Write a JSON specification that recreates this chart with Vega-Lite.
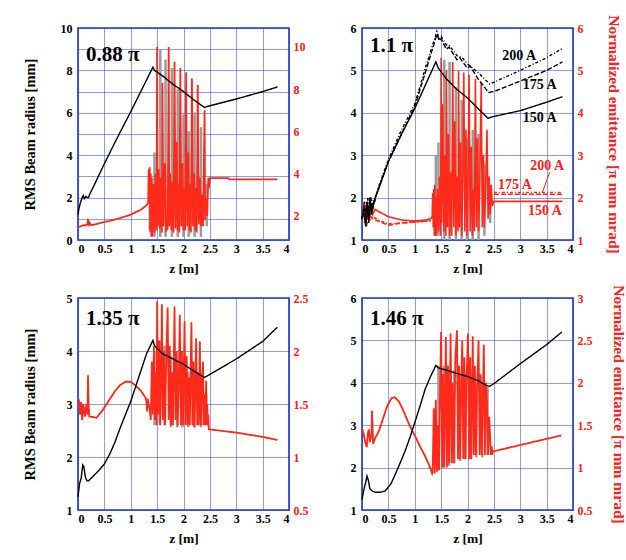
{
  "$schema": "https://vega.github.io/schema/vega-lite/v6.json",
  "autosize": {"type": "none"},
  "padding": {"left": 78, "top": 28, "right": 548, "bottom": 532},
  "background": "white",
  "datasets": {
    "lines": [
      {"p":1,"s":"black","z":0,"v":1.2},{"p":1,"s":"black","z":0.02,"v":1.5},{"p":1,"s":"black","z":0.05,"v":1.8},{"p":1,"s":"black","z":0.08,"v":2.0},{"p":1,"s":"black","z":0.1,"v":2.1},{"p":1,"s":"black","z":0.12,"v":1.95},{"p":1,"s":"black","z":0.15,"v":2.05},{"p":1,"s":"black","z":0.18,"v":2.0},{"p":1,"s":"black","z":0.2,"v":2.0},{"p":1,"s":"black","z":0.22,"v":2.15},{"p":1,"s":"black","z":0.3,"v":2.55},{"p":1,"s":"black","z":0.5,"v":3.6},{"p":1,"s":"black","z":0.75,"v":4.85},{"p":1,"s":"black","z":1.0,"v":6.05},{"p":1,"s":"black","z":1.25,"v":7.3},{"p":1,"s":"black","z":1.42,"v":8.15},{"p":1,"s":"black","z":1.45,"v":8.0},{"p":1,"s":"black","z":1.6,"v":7.75},{"p":1,"s":"black","z":1.8,"v":7.35},{"p":1,"s":"black","z":2.0,"v":7.0},{"p":1,"s":"black","z":2.2,"v":6.6},{"p":1,"s":"black","z":2.4,"v":6.25},{"p":1,"s":"black","z":2.45,"v":6.3},{"p":1,"s":"black","z":3.0,"v":6.65},{"p":1,"s":"black","z":3.5,"v":7.0},{"p":1,"s":"black","z":3.78,"v":7.22},

      {"p":1,"s":"red","z":0,"v":1.45},{"p":1,"s":"red","z":0.05,"v":1.5},{"p":1,"s":"red","z":0.1,"v":1.55},{"p":1,"s":"red","z":0.15,"v":1.55},{"p":1,"s":"red","z":0.18,"v":1.6},{"p":1,"s":"red","z":0.19,"v":1.85},{"p":1,"s":"red","z":0.2,"v":1.5},{"p":1,"s":"red","z":0.21,"v":1.7},{"p":1,"s":"red","z":0.25,"v":1.55},{"p":1,"s":"red","z":0.5,"v":1.7},{"p":1,"s":"red","z":0.75,"v":1.85},{"p":1,"s":"red","z":1.0,"v":2.05},{"p":1,"s":"red","z":1.2,"v":2.3},{"p":1,"s":"red","z":1.3,"v":2.5},{"p":1,"s":"red","z":1.33,"v":2.6},
      {"p":1,"s":"red","z":1.34,"v":4.2},{"p":1,"s":"red","z":1.35,"v":2.6},{"p":1,"s":"red","z":1.36,"v":4.3},{"p":1,"s":"red","z":1.37,"v":1.2},{"p":1,"s":"red","z":1.38,"v":4.0},{"p":1,"s":"red","z":1.39,"v":1.0},{"p":1,"s":"red","z":1.40,"v":3.8},{"p":1,"s":"red","z":1.41,"v":1.0},{"p":1,"s":"red","z":1.43,"v":3.5},{"p":1,"s":"red","z":1.45,"v":1.2},{"p":1,"s":"red","z":1.47,"v":4.0},{"p":1,"s":"red","z":1.49,"v":1.3},{"p":1,"s":"red","z":1.50,"v":10.0},{"p":1,"s":"red","z":1.51,"v":1.5},{"p":1,"s":"red","z":1.53,"v":4.2},{"p":1,"s":"red","z":1.55,"v":1.4},{"p":1,"s":"red","z":1.57,"v":3.8},{"p":1,"s":"red","z":1.59,"v":1.2},{"p":1,"s":"red","z":1.60,"v":8.3},{"p":1,"s":"red","z":1.62,"v":1.5},{"p":1,"s":"red","z":1.65,"v":4.5},{"p":1,"s":"red","z":1.67,"v":1.3},{"p":1,"s":"red","z":1.70,"v":1.4},{"p":1,"s":"red","z":1.72,"v":10.0},{"p":1,"s":"red","z":1.73,"v":1.5},{"p":1,"s":"red","z":1.75,"v":4.0},{"p":1,"s":"red","z":1.77,"v":1.3},{"p":1,"s":"red","z":1.79,"v":3.6},{"p":1,"s":"red","z":1.81,"v":1.2},{"p":1,"s":"red","z":1.83,"v":9.3},{"p":1,"s":"red","z":1.85,"v":1.4},{"p":1,"s":"red","z":1.87,"v":5.5},{"p":1,"s":"red","z":1.89,"v":1.3},{"p":1,"s":"red","z":1.91,"v":3.5},{"p":1,"s":"red","z":1.92,"v":1.2},{"p":1,"s":"red","z":1.94,"v":9.0},{"p":1,"s":"red","z":1.96,"v":1.5},{"p":1,"s":"red","z":1.98,"v":4.5},{"p":1,"s":"red","z":2.00,"v":1.3},{"p":1,"s":"red","z":2.02,"v":3.3},{"p":1,"s":"red","z":2.03,"v":1.3},{"p":1,"s":"red","z":2.05,"v":8.8},{"p":1,"s":"red","z":2.07,"v":1.5},{"p":1,"s":"red","z":2.09,"v":5.0},{"p":1,"s":"red","z":2.11,"v":1.3},{"p":1,"s":"red","z":2.13,"v":3.5},{"p":1,"s":"red","z":2.14,"v":1.2},{"p":1,"s":"red","z":2.16,"v":8.5},{"p":1,"s":"red","z":2.18,"v":1.5},{"p":1,"s":"red","z":2.20,"v":4.0},{"p":1,"s":"red","z":2.22,"v":1.3},{"p":1,"s":"red","z":2.24,"v":3.3},{"p":1,"s":"red","z":2.25,"v":1.2},{"p":1,"s":"red","z":2.27,"v":8.2},{"p":1,"s":"red","z":2.29,"v":1.6},{"p":1,"s":"red","z":2.31,"v":3.8},{"p":1,"s":"red","z":2.33,"v":1.5},{"p":1,"s":"red","z":2.35,"v":3.0},{"p":1,"s":"red","z":2.37,"v":1.5},{"p":1,"s":"red","z":2.40,"v":7.0},{"p":1,"s":"red","z":2.41,"v":1.8},{"p":1,"s":"red","z":2.43,"v":2.8},{"p":1,"s":"red","z":2.45,"v":2.0},{"p":1,"s":"red","z":2.47,"v":3.8},{"p":1,"s":"red","z":2.48,"v":3.3},{"p":1,"s":"red","z":2.5,"v":3.78},{"p":1,"s":"red","z":2.85,"v":3.78},{"p":1,"s":"red","z":2.87,"v":3.72},{"p":1,"s":"red","z":3.78,"v":3.72},

      {"p":2,"s":"black","z":0,"v":1.5},{"p":2,"s":"black","z":0.03,"v":1.7},{"p":2,"s":"black","z":0.06,"v":1.4},{"p":2,"s":"black","z":0.09,"v":1.9},{"p":2,"s":"black","z":0.12,"v":1.5},{"p":2,"s":"black","z":0.15,"v":2.0},{"p":2,"s":"black","z":0.18,"v":1.6},{"p":2,"s":"black","z":0.22,"v":1.9},{"p":2,"s":"black","z":0.3,"v":2.15},{"p":2,"s":"black","z":0.5,"v":2.85},{"p":2,"s":"black","z":0.75,"v":3.5},{"p":2,"s":"black","z":1.0,"v":4.1},{"p":2,"s":"black","z":1.2,"v":4.65},{"p":2,"s":"black","z":1.4,"v":5.2},{"p":2,"s":"black","z":1.45,"v":5.05},{"p":2,"s":"black","z":1.6,"v":4.8},{"p":2,"s":"black","z":1.8,"v":4.55},{"p":2,"s":"black","z":2.0,"v":4.35},{"p":2,"s":"black","z":2.2,"v":4.1},{"p":2,"s":"black","z":2.39,"v":3.87},{"p":2,"s":"black","z":2.45,"v":3.9},{"p":2,"s":"black","z":3.0,"v":4.05},{"p":2,"s":"black","z":3.5,"v":4.25},{"p":2,"s":"black","z":3.8,"v":4.38},

      {"p":2,"s":"b175","z":0,"v":1.5},{"p":2,"s":"b175","z":0.04,"v":1.8},{"p":2,"s":"b175","z":0.07,"v":1.3},{"p":2,"s":"b175","z":0.1,"v":1.9},{"p":2,"s":"b175","z":0.13,"v":1.4},{"p":2,"s":"b175","z":0.16,"v":2.0},{"p":2,"s":"b175","z":0.2,"v":1.7},{"p":2,"s":"b175","z":0.25,"v":2.0},{"p":2,"s":"b175","z":0.5,"v":2.85},{"p":2,"s":"b175","z":0.75,"v":3.5},{"p":2,"s":"b175","z":1.0,"v":4.15},{"p":2,"s":"b175","z":1.2,"v":4.95},{"p":2,"s":"b175","z":1.42,"v":5.85},{"p":2,"s":"b175","z":1.47,"v":5.7},{"p":2,"s":"b175","z":1.5,"v":5.75},{"p":2,"s":"b175","z":1.6,"v":5.5},{"p":2,"s":"b175","z":1.65,"v":5.55},{"p":2,"s":"b175","z":1.8,"v":5.25},{"p":2,"s":"b175","z":1.85,"v":5.3},{"p":2,"s":"b175","z":2.0,"v":5.05},{"p":2,"s":"b175","z":2.05,"v":5.1},{"p":2,"s":"b175","z":2.2,"v":4.8},{"p":2,"s":"b175","z":2.4,"v":4.48},{"p":2,"s":"b175","z":2.5,"v":4.5},{"p":2,"s":"b175","z":3.0,"v":4.75},{"p":2,"s":"b175","z":3.5,"v":5.0},{"p":2,"s":"b175","z":3.8,"v":5.2},

      {"p":2,"s":"b200","z":0,"v":1.5},{"p":2,"s":"b200","z":0.05,"v":1.9},{"p":2,"s":"b200","z":0.08,"v":1.4},{"p":2,"s":"b200","z":0.11,"v":2.0},{"p":2,"s":"b200","z":0.14,"v":1.5},{"p":2,"s":"b200","z":0.17,"v":2.0},{"p":2,"s":"b200","z":0.22,"v":1.8},{"p":2,"s":"b200","z":0.3,"v":2.2},{"p":2,"s":"b200","z":0.5,"v":2.9},{"p":2,"s":"b200","z":0.75,"v":3.6},{"p":2,"s":"b200","z":1.0,"v":4.2},{"p":2,"s":"b200","z":1.2,"v":5.05},{"p":2,"s":"b200","z":1.42,"v":5.92},{"p":2,"s":"b200","z":1.46,"v":5.75},{"p":2,"s":"b200","z":1.5,"v":5.8},{"p":2,"s":"b200","z":1.6,"v":5.6},{"p":2,"s":"b200","z":1.65,"v":5.6},{"p":2,"s":"b200","z":1.8,"v":5.35},{"p":2,"s":"b200","z":1.9,"v":5.3},{"p":2,"s":"b200","z":2.0,"v":5.15},{"p":2,"s":"b200","z":2.2,"v":4.95},{"p":2,"s":"b200","z":2.42,"v":4.68},{"p":2,"s":"b200","z":2.5,"v":4.72},{"p":2,"s":"b200","z":3.0,"v":5.0},{"p":2,"s":"b200","z":3.5,"v":5.3},{"p":2,"s":"b200","z":3.8,"v":5.52},

      {"p":2,"s":"red","z":0,"v":1.5},{"p":2,"s":"red","z":0.04,"v":1.9},{"p":2,"s":"red","z":0.07,"v":1.4},{"p":2,"s":"red","z":0.1,"v":1.8},{"p":2,"s":"red","z":0.13,"v":1.5},{"p":2,"s":"red","z":0.17,"v":1.8},{"p":2,"s":"red","z":0.2,"v":1.6},{"p":2,"s":"red","z":0.25,"v":1.72},{"p":2,"s":"red","z":0.35,"v":1.65},{"p":2,"s":"red","z":0.5,"v":1.55},{"p":2,"s":"red","z":0.75,"v":1.47},{"p":2,"s":"red","z":1.0,"v":1.45},{"p":2,"s":"red","z":1.2,"v":1.47},{"p":2,"s":"red","z":1.3,"v":1.5},{"p":2,"s":"red","z":1.33,"v":1.55},
      {"p":2,"s":"red","z":1.34,"v":2.1},{"p":2,"s":"red","z":1.35,"v":1.3},{"p":2,"s":"red","z":1.36,"v":2.2},{"p":2,"s":"red","z":1.37,"v":1.1},{"p":2,"s":"red","z":1.38,"v":2.3},{"p":2,"s":"red","z":1.39,"v":1.1},{"p":2,"s":"red","z":1.40,"v":2.0},{"p":2,"s":"red","z":1.41,"v":1.1},{"p":2,"s":"red","z":1.43,"v":2.2},{"p":2,"s":"red","z":1.45,"v":1.2},{"p":2,"s":"red","z":1.47,"v":2.5},{"p":2,"s":"red","z":1.49,"v":1.1},{"p":2,"s":"red","z":1.50,"v":5.3},{"p":2,"s":"red","z":1.51,"v":1.4},{"p":2,"s":"red","z":1.53,"v":4.2},{"p":2,"s":"red","z":1.55,"v":1.2},{"p":2,"s":"red","z":1.57,"v":3.0},{"p":2,"s":"red","z":1.59,"v":1.1},{"p":2,"s":"red","z":1.60,"v":5.0},{"p":2,"s":"red","z":1.62,"v":1.3},{"p":2,"s":"red","z":1.64,"v":3.5},{"p":2,"s":"red","z":1.66,"v":1.1},{"p":2,"s":"red","z":1.68,"v":2.6},{"p":2,"s":"red","z":1.70,"v":1.1},{"p":2,"s":"red","z":1.72,"v":5.2},{"p":2,"s":"red","z":1.74,"v":1.3},{"p":2,"s":"red","z":1.76,"v":3.8},{"p":2,"s":"red","z":1.78,"v":1.1},{"p":2,"s":"red","z":1.80,"v":2.5},{"p":2,"s":"red","z":1.82,"v":1.2},{"p":2,"s":"red","z":1.83,"v":5.0},{"p":2,"s":"red","z":1.85,"v":1.3},{"p":2,"s":"red","z":1.87,"v":3.3},{"p":2,"s":"red","z":1.89,"v":1.1},{"p":2,"s":"red","z":1.91,"v":2.4},{"p":2,"s":"red","z":1.93,"v":4.95},{"p":2,"s":"red","z":1.95,"v":1.2},{"p":2,"s":"red","z":1.97,"v":3.6},{"p":2,"s":"red","z":1.99,"v":1.1},{"p":2,"s":"red","z":2.01,"v":2.4},{"p":2,"s":"red","z":2.03,"v":4.9},{"p":2,"s":"red","z":2.05,"v":1.2},{"p":2,"s":"red","z":2.07,"v":3.2},{"p":2,"s":"red","z":2.09,"v":1.1},{"p":2,"s":"red","z":2.11,"v":2.2},{"p":2,"s":"red","z":2.13,"v":1.2},{"p":2,"s":"red","z":2.15,"v":4.8},{"p":2,"s":"red","z":2.17,"v":1.3},{"p":2,"s":"red","z":2.19,"v":3.4},{"p":2,"s":"red","z":2.21,"v":1.2},{"p":2,"s":"red","z":2.23,"v":2.2},{"p":2,"s":"red","z":2.26,"v":4.7},{"p":2,"s":"red","z":2.28,"v":1.3},{"p":2,"s":"red","z":2.30,"v":3.0},{"p":2,"s":"red","z":2.32,"v":1.3},{"p":2,"s":"red","z":2.34,"v":2.0},{"p":2,"s":"red","z":2.37,"v":3.6},{"p":2,"s":"red","z":2.39,"v":1.5},{"p":2,"s":"red","z":2.41,"v":2.5},{"p":2,"s":"red","z":2.43,"v":1.6},{"p":2,"s":"red","z":2.45,"v":2.3},{"p":2,"s":"red","z":2.47,"v":1.8},{"p":2,"s":"red","z":2.5,"v":1.91},{"p":2,"s":"red","z":3.8,"v":1.91},

      {"p":2,"s":"r175","z":0,"v":1.5},{"p":2,"s":"r175","z":0.05,"v":1.8},{"p":2,"s":"r175","z":0.08,"v":1.3},{"p":2,"s":"r175","z":0.12,"v":1.6},{"p":2,"s":"r175","z":0.2,"v":1.5},{"p":2,"s":"r175","z":0.3,"v":1.45},{"p":2,"s":"r175","z":0.5,"v":1.35},{"p":2,"s":"r175","z":0.75,"v":1.4},{"p":2,"s":"r175","z":1.0,"v":1.43},{"p":2,"s":"r175","z":1.3,"v":1.46},{"p":2,"s":"r175","z":1.9,"v":null},{"p":2,"s":"r175","z":2.5,"v":2.08},{"p":2,"s":"r175","z":3.8,"v":2.08},

      {"p":2,"s":"r200","z":0,"v":1.5},{"p":2,"s":"r200","z":0.06,"v":1.7},{"p":2,"s":"r200","z":0.1,"v":1.4},{"p":2,"s":"r200","z":0.2,"v":1.55},{"p":2,"s":"r200","z":0.35,"v":1.45},{"p":2,"s":"r200","z":0.5,"v":1.38},{"p":2,"s":"r200","z":1.0,"v":1.42},{"p":2,"s":"r200","z":1.3,"v":1.45},{"p":2,"s":"r200","z":1.9,"v":null},{"p":2,"s":"r200","z":2.5,"v":2.12},{"p":2,"s":"r200","z":3.8,"v":2.12},

      {"p":3,"s":"black","z":0,"v":1.25},{"p":3,"s":"black","z":0.03,"v":1.5},{"p":3,"s":"black","z":0.06,"v":1.6},{"p":3,"s":"black","z":0.09,"v":1.85},{"p":3,"s":"black","z":0.11,"v":1.82},{"p":3,"s":"black","z":0.14,"v":1.62},{"p":3,"s":"black","z":0.17,"v":1.55},{"p":3,"s":"black","z":0.2,"v":1.55},{"p":3,"s":"black","z":0.3,"v":1.65},{"p":3,"s":"black","z":0.4,"v":1.75},{"p":3,"s":"black","z":0.5,"v":1.87},{"p":3,"s":"black","z":0.6,"v":2.05},{"p":3,"s":"black","z":0.7,"v":2.28},{"p":3,"s":"black","z":0.8,"v":2.55},{"p":3,"s":"black","z":0.9,"v":2.8},{"p":3,"s":"black","z":1.0,"v":3.05},{"p":3,"s":"black","z":1.1,"v":3.35},{"p":3,"s":"black","z":1.2,"v":3.65},{"p":3,"s":"black","z":1.3,"v":3.95},{"p":3,"s":"black","z":1.42,"v":4.2},{"p":3,"s":"black","z":1.45,"v":4.1},{"p":3,"s":"black","z":1.6,"v":3.95},{"p":3,"s":"black","z":1.8,"v":3.85},{"p":3,"s":"black","z":2.0,"v":3.75},{"p":3,"s":"black","z":2.2,"v":3.62},{"p":3,"s":"black","z":2.39,"v":3.5},{"p":3,"s":"black","z":2.45,"v":3.53},{"p":3,"s":"black","z":3.0,"v":3.85},{"p":3,"s":"black","z":3.5,"v":4.18},{"p":3,"s":"black","z":3.78,"v":4.45},

      {"p":3,"s":"red","z":0,"v":1.5},{"p":3,"s":"red","z":0.02,"v":1.52},{"p":3,"s":"red","z":0.04,"v":1.4},{"p":3,"s":"red","z":0.06,"v":1.52},{"p":3,"s":"red","z":0.08,"v":1.35},{"p":3,"s":"red","z":0.1,"v":1.5},{"p":3,"s":"red","z":0.13,"v":1.38},{"p":3,"s":"red","z":0.16,"v":1.5},{"p":3,"s":"red","z":0.18,"v":1.4},{"p":3,"s":"red","z":0.19,"v":1.77},{"p":3,"s":"red","z":0.2,"v":1.5},{"p":3,"s":"red","z":0.215,"v":1.38},{"p":3,"s":"red","z":0.25,"v":1.38},{"p":3,"s":"red","z":0.35,"v":1.37},{"p":3,"s":"red","z":0.45,"v":1.43},{"p":3,"s":"red","z":0.57,"v":1.52},{"p":3,"s":"red","z":0.7,"v":1.62},{"p":3,"s":"red","z":0.8,"v":1.68},{"p":3,"s":"red","z":0.9,"v":1.71},{"p":3,"s":"red","z":1.0,"v":1.71},{"p":3,"s":"red","z":1.1,"v":1.67},{"p":3,"s":"red","z":1.2,"v":1.62},{"p":3,"s":"red","z":1.28,"v":1.56},{"p":3,"s":"red","z":1.3,"v":1.52},{"p":3,"s":"red","z":1.31,"v":1.43},{"p":3,"s":"red","z":1.32,"v":1.55},{"p":3,"s":"red","z":1.34,"v":1.5},{"p":3,"s":"red","z":1.36,"v":1.45},
      {"p":3,"s":"red","z":1.38,"v":1.35},{"p":3,"s":"red","z":1.40,"v":1.9},{"p":3,"s":"red","z":1.42,"v":1.4},{"p":3,"s":"red","z":1.44,"v":2.05},{"p":3,"s":"red","z":1.46,"v":1.35},{"p":3,"s":"red","z":1.48,"v":1.8},{"p":3,"s":"red","z":1.49,"v":1.3},{"p":3,"s":"red","z":1.50,"v":2.47},{"p":3,"s":"red","z":1.52,"v":1.4},{"p":3,"s":"red","z":1.54,"v":2.1},{"p":3,"s":"red","z":1.56,"v":1.3},{"p":3,"s":"red","z":1.58,"v":1.9},{"p":3,"s":"red","z":1.59,"v":2.44},{"p":3,"s":"red","z":1.61,"v":1.35},{"p":3,"s":"red","z":1.63,"v":2.0},{"p":3,"s":"red","z":1.65,"v":1.3},{"p":3,"s":"red","z":1.67,"v":1.85},{"p":3,"s":"red","z":1.70,"v":2.41},{"p":3,"s":"red","z":1.72,"v":1.35},{"p":3,"s":"red","z":1.74,"v":2.05},{"p":3,"s":"red","z":1.76,"v":1.3},{"p":3,"s":"red","z":1.78,"v":1.8},{"p":3,"s":"red","z":1.80,"v":1.3},{"p":3,"s":"red","z":1.83,"v":2.42},{"p":3,"s":"red","z":1.85,"v":1.35},{"p":3,"s":"red","z":1.87,"v":2.0},{"p":3,"s":"red","z":1.89,"v":1.3},{"p":3,"s":"red","z":1.91,"v":1.7},{"p":3,"s":"red","z":1.93,"v":2.34},{"p":3,"s":"red","z":1.95,"v":1.3},{"p":3,"s":"red","z":1.97,"v":2.0},{"p":3,"s":"red","z":1.99,"v":1.3},{"p":3,"s":"red","z":2.02,"v":2.28},{"p":3,"s":"red","z":2.04,"v":1.3},{"p":3,"s":"red","z":2.06,"v":1.95},{"p":3,"s":"red","z":2.08,"v":1.3},{"p":3,"s":"red","z":2.10,"v":1.75},{"p":3,"s":"red","z":2.12,"v":1.3},{"p":3,"s":"red","z":2.15,"v":2.27},{"p":3,"s":"red","z":2.17,"v":1.3},{"p":3,"s":"red","z":2.19,"v":1.9},{"p":3,"s":"red","z":2.21,"v":1.28},{"p":3,"s":"red","z":2.24,"v":2.12},{"p":3,"s":"red","z":2.26,"v":1.3},{"p":3,"s":"red","z":2.28,"v":1.8},{"p":3,"s":"red","z":2.29,"v":1.3},{"p":3,"s":"red","z":2.31,"v":2.09},{"p":3,"s":"red","z":2.33,"v":1.3},{"p":3,"s":"red","z":2.35,"v":1.7},{"p":3,"s":"red","z":2.37,"v":1.9},{"p":3,"s":"red","z":2.38,"v":1.3},{"p":3,"s":"red","z":2.40,"v":1.6},{"p":3,"s":"red","z":2.41,"v":1.3},{"p":3,"s":"red","z":2.43,"v":1.72},{"p":3,"s":"red","z":2.44,"v":1.3},{"p":3,"s":"red","z":2.45,"v":1.5},{"p":3,"s":"red","z":2.46,"v":1.3},{"p":3,"s":"red","z":2.47,"v":1.4},{"p":3,"s":"red","z":2.48,"v":1.26},{"p":3,"s":"red","z":2.5,"v":1.26},{"p":3,"s":"red","z":3.0,"v":1.23},{"p":3,"s":"red","z":3.5,"v":1.19},{"p":3,"s":"red","z":3.78,"v":1.16},

      {"p":4,"s":"black","z":0,"v":1.25},{"p":4,"s":"black","z":0.03,"v":1.45},{"p":4,"s":"black","z":0.07,"v":1.65},{"p":4,"s":"black","z":0.095,"v":1.8},{"p":4,"s":"black","z":0.12,"v":1.7},{"p":4,"s":"black","z":0.15,"v":1.5},{"p":4,"s":"black","z":0.19,"v":1.45},{"p":4,"s":"black","z":0.25,"v":1.42},{"p":4,"s":"black","z":0.35,"v":1.42},{"p":4,"s":"black","z":0.44,"v":1.45},{"p":4,"s":"black","z":0.55,"v":1.62},{"p":4,"s":"black","z":0.63,"v":1.84},{"p":4,"s":"black","z":0.72,"v":2.1},{"p":4,"s":"black","z":0.82,"v":2.4},{"p":4,"s":"black","z":0.92,"v":2.75},{"p":4,"s":"black","z":1.01,"v":3.1},{"p":4,"s":"black","z":1.1,"v":3.45},{"p":4,"s":"black","z":1.2,"v":3.86},{"p":4,"s":"black","z":1.3,"v":4.15},{"p":4,"s":"black","z":1.4,"v":4.41},{"p":4,"s":"black","z":1.45,"v":4.35},{"p":4,"s":"black","z":1.6,"v":4.3},{"p":4,"s":"black","z":1.8,"v":4.22},{"p":4,"s":"black","z":2.0,"v":4.15},{"p":4,"s":"black","z":2.2,"v":4.05},{"p":4,"s":"black","z":2.37,"v":3.93},{"p":4,"s":"black","z":2.42,"v":3.92},{"p":4,"s":"black","z":2.5,"v":3.98},{"p":4,"s":"black","z":3.0,"v":4.45},{"p":4,"s":"black","z":3.5,"v":4.9},{"p":4,"s":"black","z":3.79,"v":5.2},

      {"p":4,"s":"red","z":0,"v":1.47},{"p":4,"s":"red","z":0.03,"v":1.4},{"p":4,"s":"red","z":0.06,"v":1.3},{"p":4,"s":"red","z":0.09,"v":1.24},{"p":4,"s":"red","z":0.11,"v":1.4},{"p":4,"s":"red","z":0.13,"v":1.45},{"p":4,"s":"red","z":0.15,"v":1.3},{"p":4,"s":"red","z":0.18,"v":1.4},{"p":4,"s":"red","z":0.19,"v":1.67},{"p":4,"s":"red","z":0.21,"v":1.28},{"p":4,"s":"red","z":0.25,"v":1.35},{"p":4,"s":"red","z":0.32,"v":1.43},{"p":4,"s":"red","z":0.4,"v":1.58},{"p":4,"s":"red","z":0.48,"v":1.73},{"p":4,"s":"red","z":0.56,"v":1.82},{"p":4,"s":"red","z":0.62,"v":1.83},{"p":4,"s":"red","z":0.7,"v":1.78},{"p":4,"s":"red","z":0.8,"v":1.65},{"p":4,"s":"red","z":0.9,"v":1.5},{"p":4,"s":"red","z":1.0,"v":1.38},{"p":4,"s":"red","z":1.1,"v":1.25},{"p":4,"s":"red","z":1.2,"v":1.13},{"p":4,"s":"red","z":1.28,"v":1.02},{"p":4,"s":"red","z":1.33,"v":0.93},
      {"p":4,"s":"red","z":1.34,"v":0.95},{"p":4,"s":"red","z":1.36,"v":1.7},{"p":4,"s":"red","z":1.38,"v":0.93},{"p":4,"s":"red","z":1.40,"v":1.8},{"p":4,"s":"red","z":1.42,"v":0.95},{"p":4,"s":"red","z":1.44,"v":1.5},{"p":4,"s":"red","z":1.46,"v":0.97},{"p":4,"s":"red","z":1.48,"v":1.9},{"p":4,"s":"red","z":1.50,"v":2.6},{"p":4,"s":"red","z":1.52,"v":1.0},{"p":4,"s":"red","z":1.54,"v":2.1},{"p":4,"s":"red","z":1.56,"v":1.0},{"p":4,"s":"red","z":1.59,"v":2.54},{"p":4,"s":"red","z":1.61,"v":1.0},{"p":4,"s":"red","z":1.63,"v":2.2},{"p":4,"s":"red","z":1.65,"v":1.05},{"p":4,"s":"red","z":1.68,"v":2.58},{"p":4,"s":"red","z":1.70,"v":1.05},{"p":4,"s":"red","z":1.72,"v":2.0},{"p":4,"s":"red","z":1.74,"v":1.05},{"p":4,"s":"red","z":1.77,"v":2.3},{"p":4,"s":"red","z":1.80,"v":2.62},{"p":4,"s":"red","z":1.82,"v":1.1},{"p":4,"s":"red","z":1.84,"v":2.2},{"p":4,"s":"red","z":1.86,"v":1.1},{"p":4,"s":"red","z":1.88,"v":1.9},{"p":4,"s":"red","z":1.90,"v":2.5},{"p":4,"s":"red","z":1.92,"v":1.1},{"p":4,"s":"red","z":1.94,"v":2.3},{"p":4,"s":"red","z":1.96,"v":1.1},{"p":4,"s":"red","z":1.98,"v":2.0},{"p":4,"s":"red","z":2.01,"v":2.58},{"p":4,"s":"red","z":2.03,"v":1.1},{"p":4,"s":"red","z":2.05,"v":2.3},{"p":4,"s":"red","z":2.07,"v":1.1},{"p":4,"s":"red","z":2.10,"v":2.55},{"p":4,"s":"red","z":2.12,"v":1.15},{"p":4,"s":"red","z":2.14,"v":2.2},{"p":4,"s":"red","z":2.16,"v":1.15},{"p":4,"s":"red","z":2.18,"v":1.9},{"p":4,"s":"red","z":2.21,"v":2.5},{"p":4,"s":"red","z":2.23,"v":1.15},{"p":4,"s":"red","z":2.25,"v":2.1},{"p":4,"s":"red","z":2.27,"v":1.15},{"p":4,"s":"red","z":2.29,"v":1.8},{"p":4,"s":"red","z":2.31,"v":2.45},{"p":4,"s":"red","z":2.33,"v":1.15},{"p":4,"s":"red","z":2.35,"v":2.0},{"p":4,"s":"red","z":2.37,"v":1.75},{"p":4,"s":"red","z":2.39,"v":1.15},{"p":4,"s":"red","z":2.41,"v":1.6},{"p":4,"s":"red","z":2.43,"v":1.36},{"p":4,"s":"red","z":2.44,"v":1.15},{"p":4,"s":"red","z":2.46,"v":1.25},{"p":4,"s":"red","z":2.47,"v":1.15},{"p":4,"s":"red","z":2.48,"v":1.19},{"p":4,"s":"red","z":3.78,"v":1.38}
    ],
    "spikes": [
      {"p":1,"z":1.36,"lo":1.3,"hi":2.8},{"p":1,"z":1.45,"lo":1.0,"hi":5.0},{"p":1,"z":1.56,"lo":1.0,"hi":9.9},{"p":1,"z":1.66,"lo":1.0,"hi":9.4},{"p":1,"z":1.78,"lo":1.0,"hi":9.0},{"p":1,"z":1.89,"lo":1.0,"hi":8.0},{"p":1,"z":2.0,"lo":1.0,"hi":6.8},{"p":1,"z":2.1,"lo":1.0,"hi":6.0},{"p":1,"z":2.21,"lo":1.0,"hi":6.9},{"p":1,"z":2.33,"lo":1.0,"hi":6.2},{"p":1,"z":2.44,"lo":1.5,"hi":3.5},
      {"p":2,"z":1.40,"lo":1.1,"hi":3.0},{"p":2,"z":1.45,"lo":1.1,"hi":3.3},{"p":2,"z":1.56,"lo":1.0,"hi":5.25},{"p":2,"z":1.66,"lo":1.0,"hi":5.2},{"p":2,"z":1.78,"lo":1.0,"hi":4.6},{"p":2,"z":1.89,"lo":1.0,"hi":4.3},{"p":2,"z":1.99,"lo":1.0,"hi":3.4},{"p":2,"z":2.10,"lo":1.0,"hi":3.6},{"p":2,"z":2.21,"lo":1.0,"hi":3.5},{"p":2,"z":2.32,"lo":1.1,"hi":2.8},{"p":2,"z":2.43,"lo":1.4,"hi":2.3},
      {"p":3,"z":1.45,"lo":1.3,"hi":2.0},{"p":3,"z":1.55,"lo":1.3,"hi":2.1},{"p":3,"z":1.64,"lo":1.3,"hi":2.05},{"p":3,"z":1.76,"lo":1.28,"hi":1.95},{"p":3,"z":1.88,"lo":1.28,"hi":1.9},{"p":3,"z":1.98,"lo":1.28,"hi":1.85},{"p":3,"z":2.09,"lo":1.28,"hi":1.8},{"p":3,"z":2.2,"lo":1.28,"hi":1.75},{"p":3,"z":2.33,"lo":1.28,"hi":1.7},{"p":3,"z":2.43,"lo":1.3,"hi":1.6},
      {"p":4,"z":1.45,"lo":0.97,"hi":2.2},{"p":4,"z":1.55,"lo":1.0,"hi":2.2},{"p":4,"z":1.65,"lo":1.02,"hi":2.15},{"p":4,"z":1.75,"lo":1.05,"hi":2.15},{"p":4,"z":1.86,"lo":1.08,"hi":2.1},{"p":4,"z":1.96,"lo":1.1,"hi":2.1},{"p":4,"z":2.07,"lo":1.1,"hi":2.05},{"p":4,"z":2.17,"lo":1.12,"hi":2.0},{"p":4,"z":2.28,"lo":1.12,"hi":2.0},{"p":4,"z":2.38,"lo":1.15,"hi":1.95}
    ],
    "mains": [
      {"p":1,"z":0.15,"v":8.73,"t":"0.88 π"},{"p":2,"z":0.15,"v":5.58,"t":"1.1 π"},{"p":3,"z":0.15,"v":4.61,"t":"1.35 π"},{"p":4,"z":0.15,"v":5.5,"t":"1.46 π"}
    ],
    "notes": [
      {"p":2,"s":"black","z":2.98,"v":5.34,"t":"200 A"},{"p":2,"s":"black","z":3.37,"v":4.66,"t":"175 A"},{"p":2,"s":"black","z":3.37,"v":3.88,"t":"150 A"},
      {"p":2,"s":"red","z":3.51,"v":2.75,"t":"200 A"},{"p":2,"s":"red","z":2.9,"v":2.3,"t":"175 A"},{"p":2,"s":"red","z":3.47,"v":1.69,"t":"150 A"}
    ],
    "arrows": [
      {"p":2,"z":3.56,"v":2.6,"z2":3.42,"v2":2.13}
    ]
  },
  "config": {
    "font": "Liberation Serif",
    "view": {"stroke": "#1f35c8", "strokeWidth": 1.6},
    "axis": {
      "labelFont": "Liberation Serif", "labelFontWeight": "bold", "labelFontSize": 12, "labelColor": "#000000",
      "titleFont": "Liberation Serif", "titleFontWeight": "bold", "titleFontSize": 14.5, "titleColor": "#000000",
      "domain": false, "ticks": false,
      "gridColor": "#2638c8", "gridDash": [1, 1], "gridWidth": 1, "gridOpacity": 1
    }
  },
  "concat": [
    {
      "width": 211, "height": 212,
      "encoding": {"x": {"field": "z", "type": "quantitative", "scale": {"domain": [0, 4], "nice": false}, "axis": {"values": [0,0.5,1,1.5,2,2.5,3,3.5,4], "format": "~r", "title": "z [m]", "titleFontSize": 13.5, "grid": true, "labelPadding": 3, "titlePadding": 7}}},
      "layer": [
        {"data": {"name": "spikes"}, "transform": [{"filter": "datum.p == 1"}],
         "mark": {"type": "rule", "color": "#9a9a9a", "strokeWidth": 2.5},
         "encoding": {"y": {"field": "lo", "type": "quantitative", "scale": {"domain": [0.85, 10.9], "nice": false, "zero": false}, "axis": {"orient": "right", "values": [2,4,6,8,10], "format": "~r", "grid": false, "labelColor": "#ff2020", "labelPadding": 4, "title": null}}, "y2": {"field": "hi"}}},
        {"data": {"name": "lines"}, "transform": [{"filter": "datum.p == 1 && indexof(['red','r175','r200'], datum.s) >= 0"}],
         "mark": {"type": "line", "strokeWidth": 1.8},
         "encoding": {"y": {"field": "v", "type": "quantitative", "scale": {"domain": [0.85, 10.9], "nice": false, "zero": false}, "axis": null},
           "color": {"field": "s", "type": "nominal", "scale": {"domain": ["black","b175","b200","red","r175","r200"], "range": ["#000000","#000000","#000000","#ff2a1a","#ff2a1a","#ff2a1a"]}, "legend": null},
           "strokeDash": {"field": "s", "type": "nominal", "scale": {"domain": ["black","b175","b200","red","r175","r200"], "range": [[1,0],[5,2],[3,2,1,2],[1,0],[5,2],[3,2,1,2]]}, "legend": null}}},
        {"data": {"name": "lines"}, "transform": [{"filter": "datum.p == 1 && indexof(['black','b175','b200'], datum.s) >= 0"}],
         "mark": {"type": "line", "strokeWidth": 1.4},
         "encoding": {"y": {"field": "v", "type": "quantitative", "scale": {"domain": [0, 10], "nice": false}, "axis": {"orient": "left", "values": [0,1,2,3,4,5,6,7,8,9,10], "format": "~r", "labelExpr": "datum.value % 2 == 0 ? datum.label : ''", "grid": true, "labelPadding": 6, "title": "RMS Beam radius [mm]", "titlePadding": 23}},
           "color": {"field": "s", "type": "nominal", "scale": {"domain": ["black","b175","b200","red","r175","r200"], "range": ["#000000","#000000","#000000","#ff2a1a","#ff2a1a","#ff2a1a"]}, "legend": null},
           "strokeDash": {"field": "s", "type": "nominal", "scale": {"domain": ["black","b175","b200","red","r175","r200"], "range": [[1,0],[5,2],[3,2,1,2],[1,0],[5,2],[3,2,1,2]]}, "legend": null}}},
        {"data": {"name": "mains"}, "transform": [{"filter": "datum.p == 1"}],
         "mark": {"type": "text", "font": "Liberation Serif", "fontWeight": "bold", "fontSize": 21, "align": "left", "baseline": "middle", "color": "#000000"},
         "encoding": {"y": {"field": "v", "type": "quantitative", "scale": {"domain": [0, 10], "nice": false}, "axis": null}, "text": {"field": "t"}}}
      ],
      "resolve": {"scale": {"y": "independent"}}
    },
    {
      "width": 211, "height": 212,
      "encoding": {"x": {"field": "z", "type": "quantitative", "scale": {"domain": [0, 4], "nice": false}, "axis": {"values": [0,0.5,1,1.5,2,2.5,3,3.5,4], "format": "~r", "title": "z [m]", "titleFontSize": 13.5, "grid": true, "labelPadding": 3, "titlePadding": 7}}},
      "layer": [
        {"data": {"name": "spikes"}, "transform": [{"filter": "datum.p == 2"}],
         "mark": {"type": "rule", "color": "#9a9a9a", "strokeWidth": 2.5},
         "encoding": {"y": {"field": "lo", "type": "quantitative", "scale": {"domain": [1, 6], "nice": false, "zero": false}, "axis": {"orient": "right", "values": [1,2,3,4,5,6], "format": "~r", "grid": false, "labelColor": "#ff2020", "labelPadding": 4, "title": "Normalized emittance [π mm mrad]", "titleColor": "#ff2020", "titleFontSize": 15.5, "titlePadding": 22}}, "y2": {"field": "hi"}}},
        {"data": {"name": "lines"}, "transform": [{"filter": "datum.p == 2 && indexof(['red','r175','r200'], datum.s) >= 0"}],
         "mark": {"type": "line", "strokeWidth": 1.6, "invalid": "break-paths-show-domains"},
         "encoding": {"y": {"field": "v", "type": "quantitative", "scale": {"domain": [1, 6], "nice": false, "zero": false}, "axis": null},
           "color": {"field": "s", "type": "nominal", "scale": {"domain": ["black","b175","b200","red","r175","r200"], "range": ["#000000","#000000","#000000","#ff2a1a","#ff2a1a","#ff2a1a"]}, "legend": null},
           "strokeDash": {"field": "s", "type": "nominal", "scale": {"domain": ["black","b175","b200","red","r175","r200"], "range": [[1,0],[5,2],[3,2,1,2],[1,0],[5,2],[3,2,1,2]]}, "legend": null}}},
        {"data": {"name": "notes"}, "transform": [{"filter": "datum.p == 2 && datum.s == 'red'"}],
         "mark": {"type": "text", "font": "Liberation Serif", "fontWeight": "bold", "fontSize": 14, "align": "center", "baseline": "middle", "color": "#ff2020"},
         "encoding": {"y": {"field": "v", "type": "quantitative", "scale": {"domain": [1, 6], "nice": false, "zero": false}, "axis": null}, "text": {"field": "t"}}},
        {"data": {"name": "arrows"}, "transform": [{"filter": "datum.p == 2"}],
         "mark": {"type": "rule", "color": "#ff2020", "strokeWidth": 1},
         "encoding": {"y": {"field": "v", "type": "quantitative", "scale": {"domain": [1, 6], "nice": false, "zero": false}, "axis": null}, "x2": {"field": "z2"}, "y2": {"field": "v2"}}},
        {"data": {"name": "lines"}, "transform": [{"filter": "datum.p == 2 && indexof(['black','b175','b200'], datum.s) >= 0"}],
         "mark": {"type": "line", "strokeWidth": 1.4},
         "encoding": {"y": {"field": "v", "type": "quantitative", "scale": {"domain": [1, 6], "nice": false, "zero": false}, "axis": {"orient": "left", "values": [1,2,3,4,5,6], "format": "~r", "grid": true, "labelPadding": 6, "title": null}},
           "color": {"field": "s", "type": "nominal", "scale": {"domain": ["black","b175","b200","red","r175","r200"], "range": ["#000000","#000000","#000000","#ff2a1a","#ff2a1a","#ff2a1a"]}, "legend": null},
           "strokeDash": {"field": "s", "type": "nominal", "scale": {"domain": ["black","b175","b200","red","r175","r200"], "range": [[1,0],[5,2],[3,2,1,2],[1,0],[5,2],[3,2,1,2]]}, "legend": null}}},
        {"data": {"name": "notes"}, "transform": [{"filter": "datum.p == 2 && datum.s == 'black'"}],
         "mark": {"type": "text", "font": "Liberation Serif", "fontWeight": "bold", "fontSize": 14, "align": "center", "baseline": "middle", "color": "#000000"},
         "encoding": {"y": {"field": "v", "type": "quantitative", "scale": {"domain": [1, 6], "nice": false, "zero": false}, "axis": null}, "text": {"field": "t"}}},
        {"data": {"name": "mains"}, "transform": [{"filter": "datum.p == 2"}],
         "mark": {"type": "text", "font": "Liberation Serif", "fontWeight": "bold", "fontSize": 21, "align": "left", "baseline": "middle", "color": "#000000"},
         "encoding": {"y": {"field": "v", "type": "quantitative", "scale": {"domain": [1, 6], "nice": false, "zero": false}, "axis": null}, "text": {"field": "t"}}}
      ],
      "resolve": {"scale": {"y": "independent"}}
    },
    {
      "width": 211, "height": 212,
      "encoding": {"x": {"field": "z", "type": "quantitative", "scale": {"domain": [0, 4], "nice": false}, "axis": {"values": [0,0.5,1,1.5,2,2.5,3,3.5,4], "format": "~r", "title": "z [m]", "titleFontSize": 13.5, "grid": true, "labelPadding": 3, "titlePadding": 7}}},
      "layer": [
        {"data": {"name": "spikes"}, "transform": [{"filter": "datum.p == 3"}],
         "mark": {"type": "rule", "color": "#9a9a9a", "strokeWidth": 2.5},
         "encoding": {"y": {"field": "lo", "type": "quantitative", "scale": {"domain": [0.5, 2.5], "nice": false, "zero": false}, "axis": {"orient": "right", "values": [0.5,1,1.5,2,2.5], "format": "~r", "grid": false, "labelColor": "#ff2020", "labelPadding": 4, "title": null}}, "y2": {"field": "hi"}}},
        {"data": {"name": "lines"}, "transform": [{"filter": "datum.p == 3 && indexof(['red','r175','r200'], datum.s) >= 0"}],
         "mark": {"type": "line", "strokeWidth": 1.8},
         "encoding": {"y": {"field": "v", "type": "quantitative", "scale": {"domain": [0.5, 2.5], "nice": false, "zero": false}, "axis": null},
           "color": {"field": "s", "type": "nominal", "scale": {"domain": ["black","b175","b200","red","r175","r200"], "range": ["#000000","#000000","#000000","#ff2a1a","#ff2a1a","#ff2a1a"]}, "legend": null},
           "strokeDash": {"field": "s", "type": "nominal", "scale": {"domain": ["black","b175","b200","red","r175","r200"], "range": [[1,0],[5,2],[3,2,1,2],[1,0],[5,2],[3,2,1,2]]}, "legend": null}}},
        {"data": {"name": "lines"}, "transform": [{"filter": "datum.p == 3 && indexof(['black','b175','b200'], datum.s) >= 0"}],
         "mark": {"type": "line", "strokeWidth": 1.4},
         "encoding": {"y": {"field": "v", "type": "quantitative", "scale": {"domain": [1, 5], "nice": false, "zero": false}, "axis": {"orient": "left", "values": [1,2,3,4,5], "format": "~r", "grid": true, "labelPadding": 6, "title": "RMS Beam radius [mm]", "titlePadding": 29}},
           "color": {"field": "s", "type": "nominal", "scale": {"domain": ["black","b175","b200","red","r175","r200"], "range": ["#000000","#000000","#000000","#ff2a1a","#ff2a1a","#ff2a1a"]}, "legend": null},
           "strokeDash": {"field": "s", "type": "nominal", "scale": {"domain": ["black","b175","b200","red","r175","r200"], "range": [[1,0],[5,2],[3,2,1,2],[1,0],[5,2],[3,2,1,2]]}, "legend": null}}},
        {"data": {"name": "mains"}, "transform": [{"filter": "datum.p == 3"}],
         "mark": {"type": "text", "font": "Liberation Serif", "fontWeight": "bold", "fontSize": 21, "align": "left", "baseline": "middle", "color": "#000000"},
         "encoding": {"y": {"field": "v", "type": "quantitative", "scale": {"domain": [1, 5], "nice": false, "zero": false}, "axis": null}, "text": {"field": "t"}}}
      ],
      "resolve": {"scale": {"y": "independent"}}
    },
    {
      "width": 211, "height": 212,
      "encoding": {"x": {"field": "z", "type": "quantitative", "scale": {"domain": [0, 4], "nice": false}, "axis": {"values": [0,0.5,1,1.5,2,2.5,3,3.5,4], "format": "~r", "title": "z [m]", "titleFontSize": 13.5, "grid": true, "labelPadding": 3, "titlePadding": 7}}},
      "layer": [
        {"data": {"name": "spikes"}, "transform": [{"filter": "datum.p == 4"}],
         "mark": {"type": "rule", "color": "#9a9a9a", "strokeWidth": 2.5},
         "encoding": {"y": {"field": "lo", "type": "quantitative", "scale": {"domain": [0.5, 3], "nice": false, "zero": false}, "axis": {"orient": "right", "values": [0.5,1,1.5,2,2.5,3], "format": "~r", "grid": false, "labelColor": "#ff2020", "labelPadding": 4, "title": "Normalized emittance [π mm mrad]", "titleColor": "#ff2020", "titleFontSize": 15.5, "titlePadding": 18}}, "y2": {"field": "hi"}}},
        {"data": {"name": "lines"}, "transform": [{"filter": "datum.p == 4 && indexof(['red','r175','r200'], datum.s) >= 0"}],
         "mark": {"type": "line", "strokeWidth": 1.8},
         "encoding": {"y": {"field": "v", "type": "quantitative", "scale": {"domain": [0.5, 3], "nice": false, "zero": false}, "axis": null},
           "color": {"field": "s", "type": "nominal", "scale": {"domain": ["black","b175","b200","red","r175","r200"], "range": ["#000000","#000000","#000000","#ff2a1a","#ff2a1a","#ff2a1a"]}, "legend": null},
           "strokeDash": {"field": "s", "type": "nominal", "scale": {"domain": ["black","b175","b200","red","r175","r200"], "range": [[1,0],[5,2],[3,2,1,2],[1,0],[5,2],[3,2,1,2]]}, "legend": null}}},
        {"data": {"name": "lines"}, "transform": [{"filter": "datum.p == 4 && indexof(['black','b175','b200'], datum.s) >= 0"}],
         "mark": {"type": "line", "strokeWidth": 1.4},
         "encoding": {"y": {"field": "v", "type": "quantitative", "scale": {"domain": [1, 6], "nice": false, "zero": false}, "axis": {"orient": "left", "values": [1,2,3,4,5,6], "format": "~r", "grid": true, "labelPadding": 6, "title": null}},
           "color": {"field": "s", "type": "nominal", "scale": {"domain": ["black","b175","b200","red","r175","r200"], "range": ["#000000","#000000","#000000","#ff2a1a","#ff2a1a","#ff2a1a"]}, "legend": null},
           "strokeDash": {"field": "s", "type": "nominal", "scale": {"domain": ["black","b175","b200","red","r175","r200"], "range": [[1,0],[5,2],[3,2,1,2],[1,0],[5,2],[3,2,1,2]]}, "legend": null}}},
        {"data": {"name": "mains"}, "transform": [{"filter": "datum.p == 4"}],
         "mark": {"type": "text", "font": "Liberation Serif", "fontWeight": "bold", "fontSize": 21, "align": "left", "baseline": "middle", "color": "#000000"},
         "encoding": {"y": {"field": "v", "type": "quantitative", "scale": {"domain": [1, 6], "nice": false, "zero": false}, "axis": null}, "text": {"field": "t"}}}
      ],
      "resolve": {"scale": {"y": "independent"}}
    }
  ],
  "columns": 2,
  "spacing": {"row": 58, "column": 73},
  "bounds": "flush"
}
